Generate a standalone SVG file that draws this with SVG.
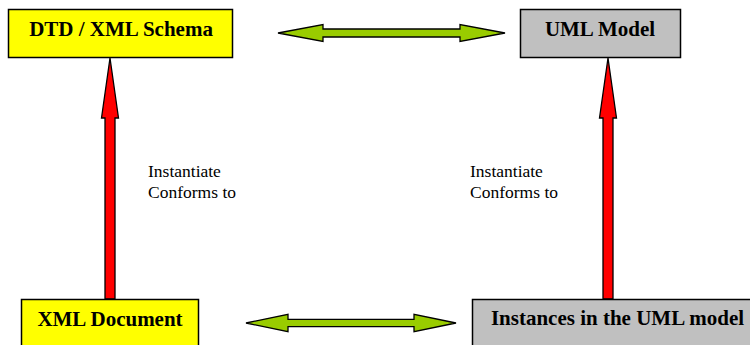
<svg xmlns="http://www.w3.org/2000/svg" width="750" height="345" viewBox="0 0 750 345">
  <style>
    .box { stroke: #000; stroke-width: 1.5; }
    .yellow { fill: #FFFF00; }
    .gray { fill: #C0C0C0; }
    .title { font-family: "Liberation Serif", "Times New Roman", serif; font-weight: bold; font-size: 21px; fill: #000; text-anchor: middle; }
    .label { font-family: "Liberation Serif", "Times New Roman", serif; font-size: 17.5px; fill: #000; }
    .up { fill: #FF0000; stroke: #000; stroke-width: 1.3; stroke-linejoin: miter; }
    .both { fill: #99CC00; stroke: #000; stroke-width: 1.3; stroke-linejoin: miter; }
  </style>
  <rect width="750" height="345" fill="#fff"/>

  <g id="connectors">
    <!-- instantiation arrows (bottom to top) -->
    <polygon class="up" points="110,58 118.5,118 115,118 115,299 105,299 105,118 101.5,118"/>
    <polygon class="up" points="608,58 616.5,118 613,118 613,299 603,299 603,118 599.5,118"/>
    <!-- correspondence arrows (double-headed) -->
    <polygon class="both" points="278,33 323,24.5 323,29 460,29 460,24.5 505,33 460,41.5 460,37 323,37 323,41.5"/>
    <polygon class="both" points="246,323 288,314.3 288,319.3 414,319.3 414,314.3 456,323 414,331.7 414,326.7 288,326.7 288,331.7"/>
    <text class="label" x="148" y="177">Instantiate</text>
    <text class="label" x="148" y="198">Conforms to</text>
    <text class="label" x="470" y="177">Instantiate</text>
    <text class="label" x="470" y="198">Conforms to</text>
  </g>

  <g id="dtd-schema">
    <rect class="box yellow" x="8.5" y="9.5" width="224" height="48"/>
    <text class="title" x="121" y="36">DTD / XML Schema</text>
  </g>

  <g id="uml-model">
    <rect class="box gray" x="520.5" y="9.5" width="160" height="48"/>
    <text class="title" x="600" y="36">UML Model</text>
  </g>

  <g id="xml-document">
    <rect class="box yellow" x="21.5" y="299.5" width="177" height="60"/>
    <text class="title" x="110" y="326">XML Document</text>
  </g>

  <g id="uml-instances">
    <rect class="box gray" x="472.5" y="299.5" width="300" height="60"/>
    <text class="title" x="617.5" y="325">Instances in the UML model</text>
  </g>
</svg>
